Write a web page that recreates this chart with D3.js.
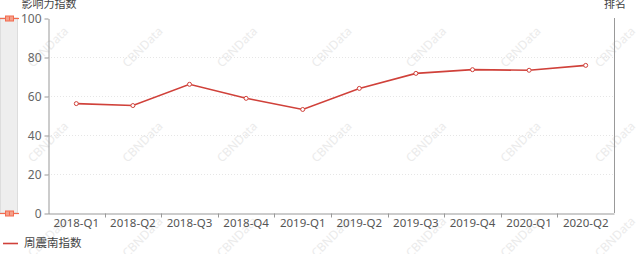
<!DOCTYPE html>
<html>
<head>
<meta charset="utf-8">
<script src="https://cdn.jsdelivr.net/npm/d3@7"></script>
<style>
  body { margin: 0; background: #fff; }
  svg { display: block; font-family: "Noto Sans CJK SC", "Noto Sans", sans-serif; }
</style>
</head>
<body>
<div id="chart"></div>
<script>
// data
var quarters = ["2018-Q1", "2018-Q2", "2018-Q3", "2018-Q4", "2019-Q1", "2019-Q2", "2019-Q3", "2019-Q4", "2020-Q1", "2020-Q2"];
var zhouIndex = [56.1, 55.1, 66.0, 58.8, 53.1, 63.9, 71.6, 73.5, 73.2, 75.7];
var yTicks = [0, 20, 40, 60, 80, 100];
var seriesName = "周震南指数";

var width = 640, height = 254;
var margin = {top: 18, right: 26, bottom: 41, left: 48};
var lineColor = "#d0413a";

var svg = d3.select("#chart").append("svg")
    .attr("width", width)
    .attr("height", height);

// watermark
var wm = svg.append("g").attr("class", "watermark");
for (var r = 0; r < 3; r++) {
    for (var c = 0; c < 7; c++) {
        var cx = 48 + c * 94.5, cy = 47 + r * 95;
        wm.append("text")
            .attr("transform", "translate(" + cx + "," + cy + ") rotate(-45)")
            .attr("text-anchor", "middle")
            .attr("dy", "0.35em")
            .attr("font-family", "Noto Sans, sans-serif")
            .attr("font-size", "12px")
            .attr("fill", "#ebebeb")
            .text("CBNData");
    }
}

var x = d3.scaleBand()
    .domain(quarters)
    .range([margin.left, width - margin.right]);

var y = d3.scaleLinear()
    .domain([0, 100])
    .range([height - margin.bottom, margin.top]);

// grid lines
svg.append("g")
    .selectAll("line")
    .data(yTicks.filter(function(d) { return d > 0 && d < 100; }))
    .enter().append("line")
    .attr("x1", margin.left)
    .attr("x2", width - margin.right)
    .attr("y1", function(d) { return Math.round(y(d)) + 0.5; })
    .attr("y2", function(d) { return Math.round(y(d)) + 0.5; })
    .attr("stroke", "#e6e6e6")
    .attr("stroke-dasharray", "1,2");

// left axis
var yAxis = svg.append("g")
    .attr("transform", "translate(" + (margin.left + 0.5) + ",0.5)")
    .call(d3.axisLeft(y).tickValues(yTicks).tickSize(4).tickSizeOuter(0).tickPadding(3));
yAxis.select(".domain").attr("stroke", "#999");
yAxis.selectAll(".tick line").attr("stroke", "#999");
yAxis.selectAll("text").attr("fill", "#666").attr("font-size", "12px")
    .attr("font-family", "Noto Sans, sans-serif");

// right axis line
svg.append("line")
    .attr("x1", width - margin.right + 0.5)
    .attr("x2", width - margin.right + 0.5)
    .attr("y1", margin.top)
    .attr("y2", height - margin.bottom)
    .attr("stroke", "#999");

// x axis with ticks at boundaries
var xAxis = svg.append("g")
    .attr("transform", "translate(0," + (height - margin.bottom + 0.5) + ")")
    .call(d3.axisBottom(x).tickSize(0).tickPadding(5));
xAxis.select(".domain").attr("stroke", "#999");
xAxis.selectAll("text").attr("fill", "#555").attr("font-size", "11.5px")
    .attr("font-family", "Noto Sans, sans-serif");
xAxis.selectAll(".boundary")
    .data(quarters.slice(1))
    .enter().append("line")
    .attr("x1", function(d) { return Math.round(x(d)) + 0.5; })
    .attr("x2", function(d) { return Math.round(x(d)) + 0.5; })
    .attr("y1", 0).attr("y2", 4)
    .attr("stroke", "#999");

// axis names
svg.append("text")
    .attr("x", 49).attr("y", 4)
    .attr("dy", "0.35em")
    .attr("text-anchor", "middle")
    .attr("font-size", "11px")
    .attr("fill", "#444")
    .text("影响力指数");
svg.append("text")
    .attr("x", width - margin.right + 1).attr("y", 4)
    .attr("dy", "0.35em")
    .attr("text-anchor", "middle")
    .attr("font-size", "11px")
    .attr("fill", "#444")
    .text("排名");

// line
var line = d3.line()
    .x(function(d, i) { return x(quarters[i]) + x.bandwidth() / 2; })
    .y(function(d) { return y(d); });

svg.append("path")
    .datum(zhouIndex)
    .attr("d", line)
    .attr("fill", "none")
    .attr("stroke", lineColor)
    .attr("stroke-width", 1.6);

svg.append("g")
    .selectAll("circle")
    .data(zhouIndex)
    .enter().append("circle")
    .attr("cx", function(d, i) { return x(quarters[i]) + x.bandwidth() / 2; })
    .attr("cy", function(d) { return y(d); })
    .attr("r", 2)
    .attr("fill", "#fff")
    .attr("stroke", lineColor)
    .attr("stroke-width", 1);

// vertical data zoom slider on the left
var slider = svg.append("g");
slider.append("rect")
    .attr("x", 0.5).attr("y", y(100))
    .attr("width", 17).attr("height", y(0) - y(100))
    .attr("fill", "#eeeeee")
    .attr("stroke", "#dddddd");
[100, 0].forEach(function(v) {
    var hy = Math.round(y(v)) + 0.5;
    slider.append("line")
        .attr("x1", 0).attr("x2", 19)
        .attr("y1", hy).attr("y2", hy)
        .attr("stroke", "#f26b4f")
        .attr("stroke-width", 1.2);
    slider.append("rect")
        .attr("x", 5.5).attr("y", hy - 2.5)
        .attr("width", 8).attr("height", 5)
        .attr("fill", "#f5a08a")
        .attr("stroke", "#f26b4f");
    slider.append("line")
        .attr("x1", 9.5).attr("x2", 9.5)
        .attr("y1", hy - 2).attr("y2", hy + 2)
        .attr("stroke", "#f26b4f");
});

// legend
var legend = svg.append("g").attr("transform", "translate(3,243)");
legend.append("line")
    .attr("x1", 0).attr("x2", 15)
    .attr("y1", 0.5).attr("y2", 0.5)
    .attr("stroke", lineColor)
    .attr("stroke-width", 1.6);
legend.append("text")
    .attr("x", 21).attr("y", 0)
    .attr("dy", "0.35em")
    .attr("font-size", "11.5px")
    .attr("fill", "#444")
    .text(seriesName);
</script>
</body>
</html>
